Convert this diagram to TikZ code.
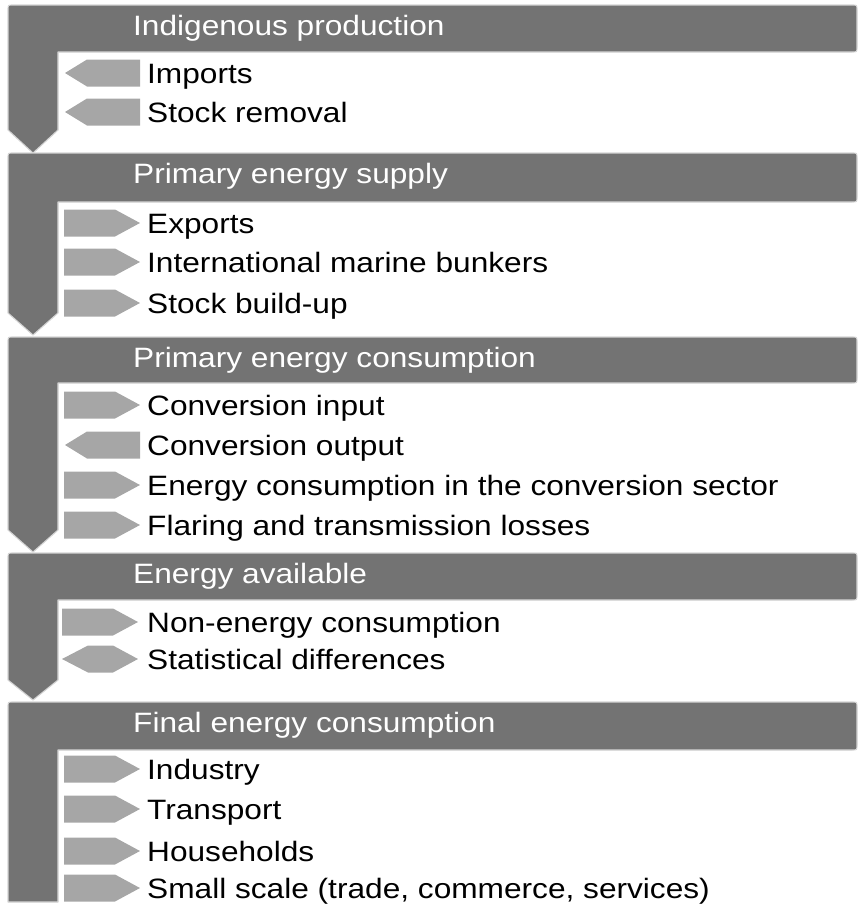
\documentclass[tikz,border=0pt]{standalone}
\usepackage{fontspec}
\setmainfont{Liberation Sans}[FakeStretch=1.13]
\usepackage{xcolor}
\usepackage{tikz}
\usetikzlibrary{calc}

\definecolor{bardark}{RGB}{115,115,115}
\definecolor{flowgray}{RGB}{166,166,166}
\definecolor{edgegray}{RGB}{212,212,212}

\begin{document}
\begin{tikzpicture}[
    x=1pt,y=-1pt,
    block/.style={fill=bardark,draw=edgegray,line width=1.1pt,line join=round},
    heading/.style={anchor=base west,inner sep=0pt,text=white,
        font=\fontsize{28}{32}\selectfont},
    item/.style={anchor=base west,inner sep=0pt,text=black,
        font=\fontsize{28}{32}\selectfont},
    outflow/.pic={\fill[flowgray] (0,-13.5) -- (51,-13.5) -- (76,0)
        -- (51,13.5) -- (0,13.5) -- cycle;},
    inflow/.pic={\fill[flowgray] (1,0) -- (23,-13.5) -- (76,-13.5)
        -- (76,13.5) -- (23,13.5) -- cycle;},
    bothflow/.pic={\fill[flowgray] (-2,0) -- (24,-13.5) -- (49,-13.5)
        -- (74,0) -- (49,13.5) -- (24,13.5) -- cycle;},
    ]
    \useasboundingbox (0,0) rectangle (863,913);
    % Blocks with a downward arrow
    \foreach \t/\h/\s/\p/\txt [count=\i] in {
        5/52/130/153/Indigenous production,
        153/202/313/335/Primary energy supply,
        337/383/530/552/Primary energy consumption,
        553/600/680/700/Energy available}{
        \filldraw[block] (33,\p) -- (8,\s) -- (8,\t+5)
            .. controls (8,\t) .. (13,\t) -- (852,\t)
            .. controls (857,\t) .. (857,\t+5) -- (857,\h-5)
            .. controls (857,\h) .. (852,\h) -- (58,\h) -- (58,\s) -- cycle;
        \node[heading] (head\i) at (133,\t+30) {\txt};
    }
    % Last block, no arrow
    \filldraw[block] (8,902) -- (8,707) .. controls (8,702) .. (13,702)
        -- (852,702) .. controls (857,702) .. (857,707) -- (857,745)
        .. controls (857,750) .. (852,750) -- (58,750) -- (58,902) -- cycle;
    \node[heading] (head5) at (133,732) {Final energy consumption};

    % Flow markers
    \foreach \y in {223,262,303,405,485,525,769,809,851,888}
        \pic at (64,\y) {outflow};
    \pic at (62,622) {outflow};
    \foreach \y in {73,112,445}
        \pic at (64,\y) {inflow};
    \pic at (64,659) {bothflow};

    % Item labels
    \foreach \y/\txt [count=\i] in {
        73/Imports, 112/Stock removal,
        223/Exports, 262/International marine bunkers, 303/Stock build-up,
        405/Conversion input, 445/Conversion output,
        485/Energy consumption in the conversion sector,
        525/Flaring and transmission losses,
        622/Non-energy consumption, 659/Statistical differences,
        769/Industry, 809/Transport, 851/Households,
        888/{Small scale (trade, commerce, services)}}
        \node[item] (item\i) at (147,\y+10) {\txt};
\end{tikzpicture}
\end{document}
